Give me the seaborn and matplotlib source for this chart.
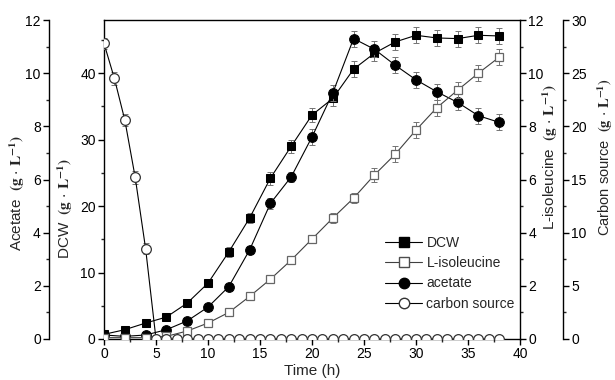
import matplotlib
matplotlib.use("Agg")
import matplotlib.pyplot as plt
import seaborn as sns
import pandas as pd
from matplotlib.lines import Line2D
from matplotlib.ticker import MultipleLocator

sns.set_theme(style="ticks")
plt.rcParams['font.family'] = ['Liberation Sans', 'DejaVu Sans']
plt.rcParams['mathtext.fontset'] = 'stix'

# ---- data ----
time = [0, 2, 4, 6, 8, 10, 12, 14, 16, 18, 20, 22, 24, 26, 28, 30, 32, 34, 36, 38]
dcw = [0.7, 1.4, 2.4, 3.3, 5.4, 8.4, 13.1, 18.2, 24.2, 29.0, 33.7, 36.2, 40.6, 43.0,
       44.7, 45.7, 45.3, 45.2, 45.7, 45.6]
dcw_err = [0.3, 0.3, 0.3, 0.4, 0.5, 0.6, 0.7, 0.8, 1.0, 1.0, 1.0, 1.2, 1.2, 1.2,
           1.2, 1.2, 1.2, 1.2, 1.2, 1.2]
acetate = [0.15, 0.1, 0.15, 0.35, 0.68, 1.2, 1.97, 3.35, 5.1, 6.1, 7.6, 9.26, 11.3,
           10.9, 10.3, 9.75, 9.3, 8.9, 8.4, 8.15]
acetate_err = [0.05, 0.05, 0.05, 0.08, 0.1, 0.1, 0.1, 0.15, 0.2, 0.2, 0.3, 0.3, 0.3,
               0.3, 0.3, 0.3, 0.3, 0.3, 0.3, 0.3]
ile = [0.05, 0.05, 0.05, 0.1, 0.3, 0.6, 1.0, 1.6, 2.25, 2.97, 3.76, 4.55, 5.3, 6.17,
       6.95, 7.86, 8.7, 9.36, 10.0, 10.6]
ile_err = [0.03, 0.03, 0.03, 0.05, 0.1, 0.1, 0.1, 0.15, 0.15, 0.15, 0.15, 0.2, 0.2,
           0.25, 0.3, 0.3, 0.3, 0.3, 0.3, 0.3]
cs_time = [0, 1, 2, 3, 4, 5, 6, 7, 8, 9, 10, 11, 12, 13, 14, 15, 16, 17, 18, 19, 20,
           21, 22, 23, 24, 25, 26, 27, 28, 29, 30, 31, 32, 33, 34, 35, 36, 37, 38]
carbon = [27.8, 24.5, 20.6, 15.2, 8.5, 0.0, 0.0, 0.0, 0.0, 0.0, 0.0, 0.0, 0.0, 0.0,
          0.0, 0.0, 0.0, 0.0, 0.0, 0.0, 0.0, 0.0, 0.0, 0.0, 0.0, 0.0, 0.0, 0.0, 0.0,
          0.0, 0.0, 0.0, 0.0, 0.0, 0.0, 0.0, 0.0, 0.0, 0.0]
carbon_err = [0.5, 0.6, 0.6, 0.6, 0.5, 0.1, 0.1, 0.1, 0.1, 0.1, 0.1, 0.1, 0.1, 0.1,
              0.1, 0.1, 0.1, 0.1, 0.1, 0.1, 0.1, 0.1, 0.1, 0.1, 0.1, 0.1, 0.1, 0.1,
              0.1, 0.1, 0.1, 0.1, 0.1, 0.1, 0.1, 0.1, 0.1, 0.1, 0.1]

df = pd.DataFrame({"time": time, "dcw": dcw, "acetate": acetate, "ile": ile})
dfc = pd.DataFrame({"time": cs_time, "carbon": carbon})

fig = plt.figure(figsize=(6.15, 3.8), dpi=100)
ax = fig.add_axes([104/615, 41/380, 416/615, 319/380])
ax_ace = ax.twinx()
ax_ile = ax.twinx()
ax_cs = ax.twinx()

lw = 0.8
tick_fs = 10
lab_fs = 11
unit = r"$\mathbf{(g}\,\cdot\,\mathbf{L^{-1})}$"
ekw = dict(fmt='none', ecolor='0.45', elinewidth=0.7, capsize=2.5, capthick=0.7)

# DCW
ax.errorbar(time, dcw, yerr=dcw_err, **ekw)
sns.lineplot(data=df, x="time", y="dcw", ax=ax, color='black', linewidth=lw, marker='s',
             markersize=6, markerfacecolor='black', markeredgecolor='black', legend=False)
# Acetate
ax_ace.errorbar(time, acetate, yerr=acetate_err, **ekw)
sns.lineplot(data=df, x="time", y="acetate", ax=ax_ace, color='black', linewidth=lw, marker='o',
             markersize=7, markerfacecolor='black', markeredgecolor='black', legend=False)
# L-isoleucine
ax_ile.errorbar(time, ile, yerr=ile_err, **ekw)
sns.lineplot(data=df, x="time", y="ile", ax=ax_ile, color='0.25', linewidth=lw, marker='s',
             markersize=6, markerfacecolor='white', markeredgecolor='0.4', markeredgewidth=0.9, legend=False)
# Carbon source
ax_cs.errorbar(cs_time, carbon, yerr=carbon_err, **ekw)
sns.lineplot(data=dfc, x="time", y="carbon", ax=ax_cs, color='black', linewidth=lw, marker='o',
             markersize=7, markerfacecolor='white', markeredgecolor='0.2', markeredgewidth=0.9,
             legend=False, clip_on=True)

# ---- axes formatting ----
for a in (ax, ax_ace, ax_ile, ax_cs):
    a.set_xlim(0, 40)
    a.patch.set_visible(False)
    for s in a.spines.values():
        s.set_linewidth(1.0)
        s.set_color('black')
    a.tick_params(direction='out', length=4, width=1.0, labelsize=tick_fs, colors='black', pad=2)
    a.tick_params(which='minor', direction='out', length=2.5, width=1.0)
    a.set_xlabel("")
    a.set_ylabel("")

ax.set_ylim(0, 48)
ax.set_yticks([0, 10, 20, 30, 40])
ax.yaxis.set_minor_locator(MultipleLocator(5))
ax.set_xticks([0, 5, 10, 15, 20, 25, 30, 35, 40])
ax.xaxis.set_minor_locator(MultipleLocator(2.5))
ax.spines['right'].set_visible(False)
ax.set_xlabel("Time (h)", fontsize=lab_fs, labelpad=2)
ax.set_ylabel("DCW  " + unit, fontsize=lab_fs)
ax.yaxis.set_label_coords(-0.070, 0.41)

# acetate axis (left, offset)
ax_ace.set_ylim(0, 12)
ax_ace.set_yticks([0, 2, 4, 6, 8, 10, 12])
ax_ace.yaxis.set_minor_locator(MultipleLocator(1))
ax_ace.spines['left'].set_position(('axes', -0.132))
ax_ace.spines['left'].set_visible(True)
for s in ('right', 'top', 'bottom'):
    ax_ace.spines[s].set_visible(False)
ax_ace.yaxis.set_label_position('left')
ax_ace.yaxis.set_ticks_position('left')
ax_ace.set_ylabel("Acetate  " + unit, fontsize=lab_fs)
ax_ace.yaxis.set_label_coords(-0.184, 0.458)

# L-isoleucine (right)
ax_ile.set_ylim(0, 12)
ax_ile.set_yticks([0, 2, 4, 6, 8, 10, 12])
ax_ile.yaxis.set_minor_locator(MultipleLocator(1))
for s in ('left', 'top', 'bottom'):
    ax_ile.spines[s].set_visible(False)
ax_ile.set_ylabel("L-isoleucine  " + unit, fontsize=lab_fs)
ax_ile.yaxis.set_label_coords(1.050, 0.57)

# carbon source (right, offset)
ax_cs.set_ylim(0, 30)
ax_cs.set_yticks([0, 5, 10, 15, 20, 25, 30])
ax_cs.yaxis.set_minor_locator(MultipleLocator(2.5))
ax_cs.spines['right'].set_position(('axes', 1.103))
for s in ('left', 'top', 'bottom'):
    ax_cs.spines[s].set_visible(False)
ax_cs.set_ylabel("Carbon source  " + unit, fontsize=10.5)
ax_cs.yaxis.set_label_coords(1.181, 0.57)

# legend
handles = [
    Line2D([], [], color='black', lw=lw, marker='s', markersize=6.5, markerfacecolor='black', markeredgecolor='black'),
    Line2D([], [], color='0.25', lw=lw, marker='s', markersize=6.5, markerfacecolor='white', markeredgecolor='0.3'),
    Line2D([], [], color='black', lw=lw, marker='o', markersize=7.5, markerfacecolor='black', markeredgecolor='black'),
    Line2D([], [], color='black', lw=lw, marker='o', markersize=7.5, markerfacecolor='white', markeredgecolor='0.2'),
]
labels = ["DCW", "L-isoleucine", "acetate", "carbon source"]
ax_cs.legend(handles, labels, loc='upper left', bbox_to_anchor=(0.675, 0.323), frameon=False,
             fontsize=10, handlelength=2.7, handletextpad=0.3, labelspacing=0.45, borderaxespad=0,
             borderpad=0)

fig.savefig("out.png", dpi=100)
